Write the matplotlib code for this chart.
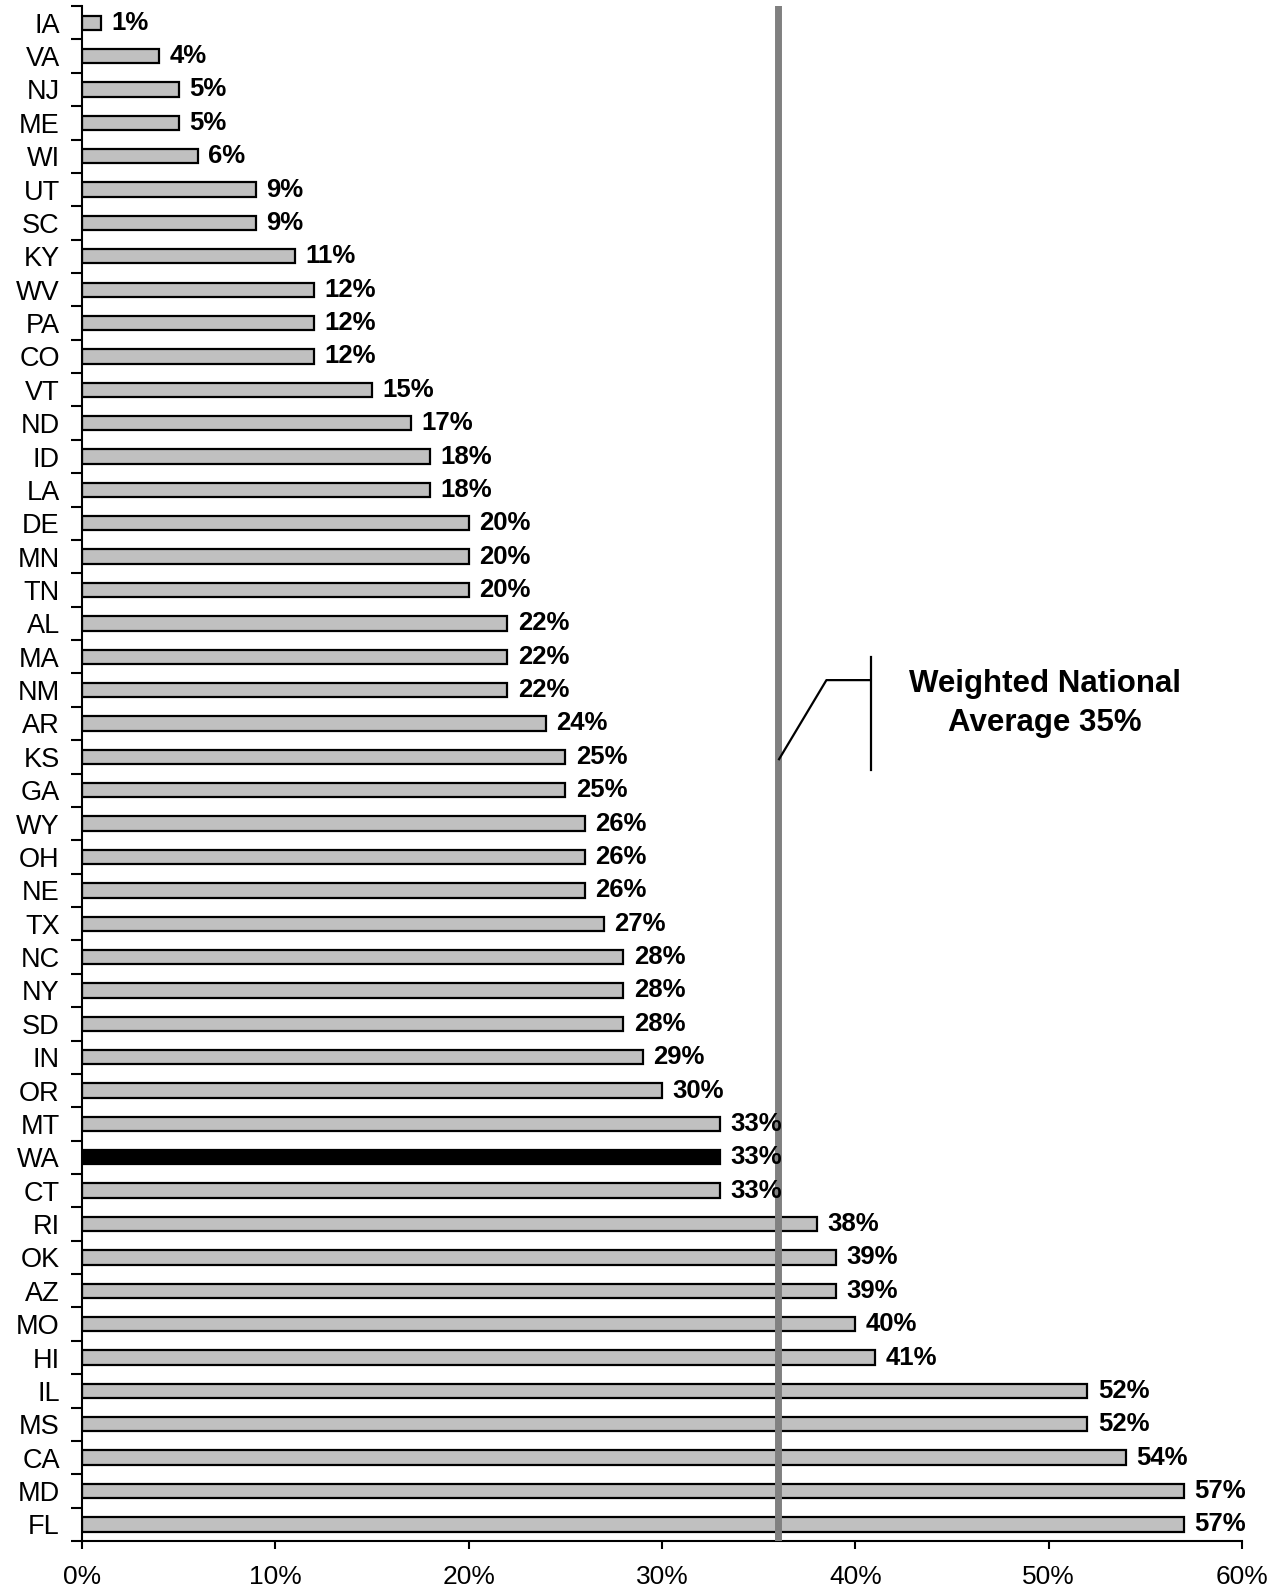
import matplotlib.pyplot as plt
from matplotlib.ticker import FixedLocator, FuncFormatter

states = ["IA", "VA", "NJ", "ME", "WI", "UT", "SC", "KY", "WV", "PA", "CO", "VT",
          "ND", "ID", "LA", "DE", "MN", "TN", "AL", "MA", "NM", "AR", "KS", "GA",
          "WY", "OH", "NE", "TX", "NC", "NY", "SD", "IN", "OR", "MT", "WA", "CT",
          "RI", "OK", "AZ", "MO", "HI", "IL", "MS", "CA", "MD", "FL"]
pct = [1, 4, 5, 5, 6, 9, 9, 11, 12, 12, 12, 15,
       17, 18, 18, 20, 20, 20, 22, 22, 22, 24, 25, 25,
       26, 26, 26, 27, 28, 28, 28, 29, 30, 33, 33, 33,
       38, 39, 39, 40, 41, 52, 52, 54, 57, 57]
highlight = "WA"
avg_line = 36
avg_text = "Weighted National\nAverage 35%"
x_ticks = [0, 10, 20, 30, 40, 50, 60]

plt.rcParams["font.family"] = "Liberation Sans"

fig = plt.figure(figsize=(12.8, 15.91), dpi=100)
ax = fig.add_axes([0.0641, 0.0314, 0.9063, 0.9648])

ypos = list(range(len(states)))
colors = ["black" if s == highlight else "#c0c0c0" for s in states]
ax.barh(ypos, pct, height=0.43, color=colors, edgecolor="black", linewidth=1.6, zorder=2)

for y, v in zip(ypos, pct):
    ax.annotate(f"{v}%", (v, y), xytext=(7.5, 0), textcoords="offset points",
                ha="left", va="center", fontsize=18.5, fontweight="bold", zorder=4)

ax.axvline(avg_line, color="#808080", linewidth=5, zorder=3)

# callout bracket for the national average
ax.plot([36.05, 38.5, 40.8], [22.07, 19.7, 19.7], color="black", linewidth=1.6, zorder=3)
ax.plot([40.8, 40.8], [19.0, 22.4], color="black", linewidth=1.6, zorder=3)
ax.text(49.8, 20.4, avg_text, ha="center", va="center", fontsize=22.5,
        fontweight="bold", linespacing=1.38)

ax.set_xlim(0, 60)
ax.set_ylim(len(states) - 0.5, -0.5)
ax.set_xticks(x_ticks)
ax.xaxis.set_major_formatter(FuncFormatter(lambda v, p: f"{v:.0f}%"))
ax.tick_params(axis="x", length=6, width=1.5, direction="out", pad=11, labelsize=19)

ax.set_yticks(ypos)
ax.set_yticklabels(states, fontsize=19.5)
ax.yaxis.set_minor_locator(FixedLocator([i - 0.5 for i in range(len(states) + 1)]))
ax.tick_params(axis="y", which="major", length=0, pad=16)
ax.tick_params(axis="y", which="minor", length=8, width=1.5, direction="out")

ax.spines["top"].set_visible(False)
ax.spines["right"].set_visible(False)
ax.spines["left"].set_linewidth(1.5)
ax.spines["bottom"].set_linewidth(1.5)

fig.savefig("out.png", dpi=100)
